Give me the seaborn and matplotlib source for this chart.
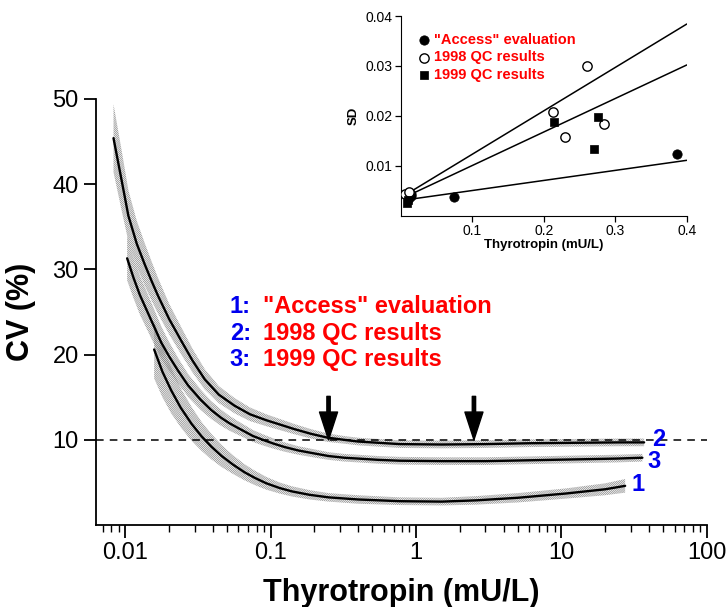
import numpy as np
import pandas as pd
import matplotlib
matplotlib.use("Agg")
import matplotlib.pyplot as plt
import seaborn as sns

# main panel: CV profiles
c1_x = [0.0158, 0.018, 0.0207, 0.024, 0.0285, 0.0335, 0.0391, 0.046, 0.055, 0.066, 0.0775, 0.0933,
        0.115, 0.14, 0.185, 0.25, 0.4, 0.77, 1.5, 2.6, 5.0, 10.7, 20.0, 27.4]
c1_y = [20.6, 18.0, 15.8, 13.8, 11.9, 10.4, 9.2, 8.1, 7.1, 6.2, 5.55, 4.9,
        4.35, 3.95, 3.55, 3.25, 3.0, 2.8, 2.75, 2.9, 3.2, 3.7, 4.2, 4.6]
c1_d = [3.4, 3.0, 2.7, 2.3, 2.0, 1.7, 1.5, 1.3, 1.1, 0.95, 0.85, 0.75,
        0.65, 0.6, 0.55, 0.5, 0.5, 0.45, 0.45, 0.5, 0.55, 0.6, 0.7, 0.8]

c2_x = [0.0083, 0.0095, 0.0105, 0.012, 0.0136, 0.0152, 0.0168, 0.02, 0.0243, 0.029, 0.0352, 0.044,
        0.0565, 0.072, 0.0933, 0.118, 0.146, 0.19, 0.247, 0.32, 0.4, 0.77, 1.5, 3.0, 6.0, 12.0, 25.0, 37.0]
c2_y = [45.4, 40.2, 36.3, 33.0, 30.6, 28.6, 26.9, 24.2, 21.6, 19.3, 17.1, 15.3,
        14.0, 13.0, 12.3, 11.75, 11.25, 10.7, 10.25, 10.0, 9.8, 9.5, 9.45, 9.5, 9.6, 9.65, 9.7, 9.7]
c2_d = [4.0, 3.5, 3.0, 2.7, 2.5, 2.3, 2.1, 1.8, 1.6, 1.4, 1.2, 1.0,
        0.9, 0.8, 0.7, 0.65, 0.6, 0.55, 0.5, 0.45, 0.45, 0.45, 0.45, 0.45, 0.45, 0.45, 0.45, 0.45]

c3_x = [0.0103, 0.0114, 0.0126, 0.0152, 0.0177, 0.02, 0.0231, 0.027, 0.033, 0.039, 0.0455, 0.052,
        0.0595, 0.0755, 0.09, 0.105, 0.125, 0.155, 0.2, 0.25, 0.32, 0.4, 0.55, 0.77, 1.5, 3.0, 6.0,
        12.0, 24.0, 36.0]
c3_y = [31.3, 29.0, 27.0, 23.9, 21.4, 19.8, 18.1, 16.4, 14.7, 13.5, 12.6, 11.95,
        11.4, 10.45, 9.95, 9.55, 9.15, 8.75, 8.4, 8.1, 7.9, 7.8, 7.65, 7.55, 7.5, 7.5, 7.6,
        7.7, 7.8, 7.9]
c3_d = [2.6, 2.4, 2.3, 2.1, 1.9, 1.7, 1.5, 1.35, 1.2, 1.05, 0.95, 0.88,
        0.8, 0.7, 0.65, 0.6, 0.55, 0.5, 0.48, 0.45, 0.45, 0.45, 0.45, 0.45, 0.45, 0.45, 0.45,
        0.45, 0.45, 0.45]

arrow_x = [0.25, 2.5]
end_labels = ["1", "2", "3"]
end_pos = [(33.6, 4.8), (47.0, 10.0), (43.4, 7.5)]
key_nums = ["1:", "2:", "3:"]
key_names = ['"Access" evaluation', "1998 QC results", "1999 QC results"]

# inset: SD vs concentration
acc_x = [0.387, 0.0746, 0.014, 0.0145, 0.011]
acc_y = [0.0124, 0.0037, 0.0039, 0.0044, 0.0035]
qc98_x = [0.2606, 0.2126, 0.2303, 0.2844, 0.006, 0.0117]
qc98_y = [0.0299, 0.0208, 0.0157, 0.0184, 0.0043, 0.0047]
qc99_x = [0.214, 0.2755, 0.2704, 0.0084, 0.0107]
qc99_y = [0.0188, 0.0198, 0.0133, 0.0025, 0.0032]
fit_x = [0.0084, 0.4]
fit_acc = [0.0032, 0.0111]
fit_98 = [0.00434, 0.0384]
fit_99 = [0.0039, 0.0302]

sns.set_style("ticks")
plt.rcParams['font.family'] = ['Liberation Sans', 'DejaVu Sans']
plt.rcParams['hatch.linewidth'] = 0.5
plt.rcParams['hatch.color'] = '#858585'
for k in ['text.color', 'axes.labelcolor', 'xtick.color', 'ytick.color', 'axes.edgecolor']:
    plt.rcParams[k] = 'black'

fig = plt.figure(figsize=(7.28, 6.07), dpi=100)
ax = fig.add_axes([0.132, 0.135, 0.839, 0.702])

for cx, cy, cd in [(c2_x, c2_y, c2_d), (c3_x, c3_y, c3_d), (c1_x, c1_y, c1_d)]:
    cx = np.array(cx); cy = np.array(cy); cd = np.array(cd)
    ax.fill_between(cx, cy - cd, cy + cd, facecolor='none', edgecolor='#858585',
                    hatch='/' * 16, linewidth=0)
    sns.lineplot(x=cx, y=cy, ax=ax, color='black', lw=1.7, sort=False)

ax.axhline(10, color='black', lw=1.1, ls=(0, (5, 4)))

for xa in arrow_x:
    ax.annotate('', xy=(xa, 10), xytext=(xa, 15.1),
                arrowprops=dict(facecolor='black', edgecolor='black', width=2.4,
                                headwidth=13, headlength=20, shrink=0))

for lab, (lx, ly) in zip(end_labels, end_pos):
    ax.text(lx, ly, lab, color='#0000ee', fontsize=17, fontweight='bold',
            ha='center', va='center')

for i, (n, name) in enumerate(zip(key_nums, key_names)):
    yy = 25.6 - 3.1 * i
    ax.text(0.0523, yy, n, color='#0000ee', fontsize=17, fontweight='bold', va='center')
    ax.text(0.088, yy, name, color='#ff0000', fontsize=17, fontweight='bold', va='center')

ax.set_xscale('log')
ax.set_xlim(0.0063, 100)
ax.set_ylim(0, 50)
ax.set_yticks([10, 20, 30, 40, 50])
ax.set_xticks([0.01, 0.1, 1, 10, 100])
ax.set_xticklabels(['0.01', '0.1', '1', '10', '100'])
ax.tick_params(axis='both', which='major', labelsize=17, length=9, width=1.3, direction='out')
ax.tick_params(axis='x', which='minor', length=5, width=1.0)
ax.set_xlabel('Thyrotropin (mU/L)', fontsize=22, fontweight='bold', labelpad=10)
ax.set_ylabel('CV (%)', fontsize=22, fontweight='bold', labelpad=12)
for s in ['top', 'right']:
    ax.spines[s].set_visible(False)
for s in ['left', 'bottom']:
    ax.spines[s].set_linewidth(1.3)

# inset
ins = fig.add_axes([0.5504, 0.6446, 0.393, 0.329])
ins.set_facecolor('none')
ins.plot(fit_x, fit_98, color='black', lw=1.1)
ins.plot(fit_x, fit_99, color='black', lw=1.1)
ins.plot(fit_x, fit_acc, color='black', lw=1.1)
sns.scatterplot(x=acc_x, y=acc_y, ax=ins, marker='o', color='black', edgecolor='black',
                s=45, label='"Access" evaluation', zorder=3)
sns.scatterplot(x=qc98_x, y=qc98_y, ax=ins, marker='o', facecolor='white', edgecolor='black',
                linewidth=1.0, s=45, label='1998 QC results', zorder=3)
sns.scatterplot(x=qc99_x, y=qc99_y, ax=ins, marker='s', color='black', edgecolor='black',
                s=40, label='1999 QC results', zorder=3)
leg = ins.legend(loc='upper left', bbox_to_anchor=(0.03, 0.945), frameon=False,
                 handletextpad=0.1, labelspacing=0.25, borderaxespad=0,
                 prop={'weight': 'bold', 'size': 10.5}, labelcolor='#ff0000',
                 handlelength=1.2)
ins.set_xlim(0, 0.4)
ins.set_ylim(0, 0.04)
ins.set_xticks([0.1, 0.2, 0.3, 0.4])
ins.set_xticklabels(['0.1', '0.2', '0.3', '0.4'])
ins.set_yticks([0.01, 0.02, 0.03, 0.04])
ins.set_yticklabels(['0.01', '0.02', '0.03', '0.04'])
ins.tick_params(labelsize=10, length=4, width=0.9, direction='out', pad=2)
ins.set_xlabel('Thyrotropin (mU/L)', fontsize=9.5, fontweight='bold', labelpad=1)
ins.set_ylabel('SD', fontsize=9.5, fontweight='bold', labelpad=4)
for s in ['top', 'right']:
    ins.spines[s].set_visible(False)

fig.savefig('out.png', dpi=100)
